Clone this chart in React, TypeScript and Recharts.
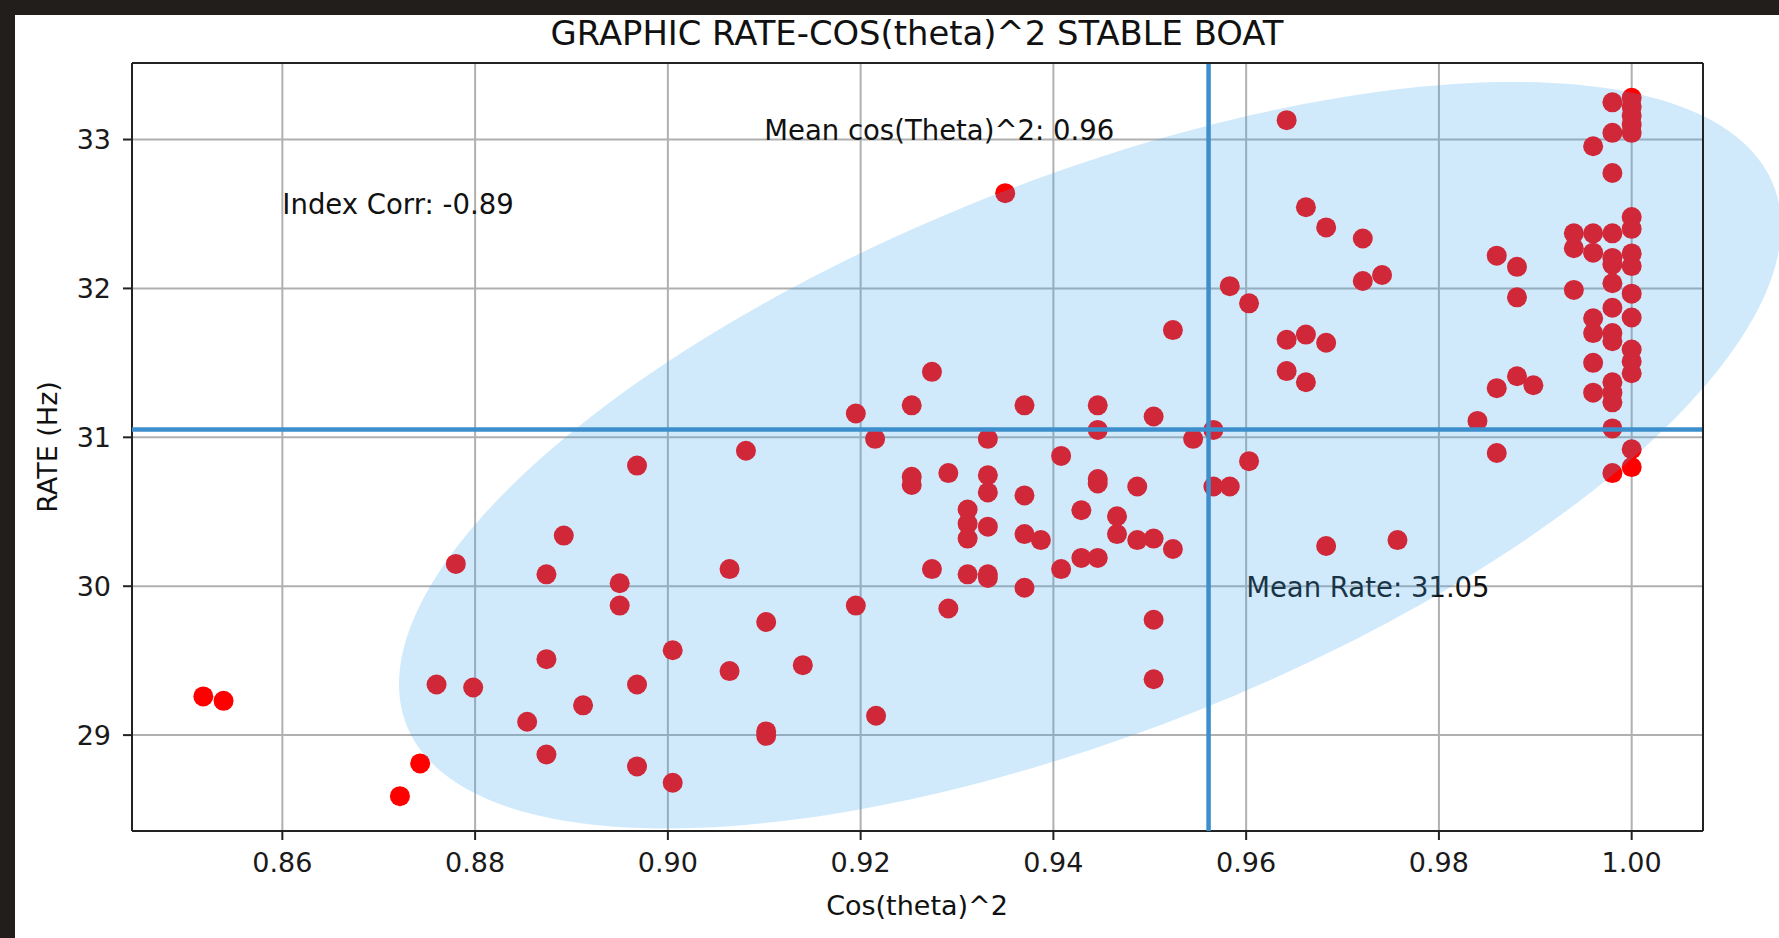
import React from 'react';
import { ScatterChart, Scatter, XAxis, YAxis, CartesianGrid, ReferenceLine } from 'recharts';

// [cos(theta)^2, rate (Hz)]
const samples: [number, number][] = [
  [0.8518, 29.26], [0.8539, 29.23], [0.8743, 28.81], [0.8722, 28.59],
  [0.878, 30.15], [0.8892, 30.34], [0.8874, 30.08], [0.8874, 29.51], [0.876, 29.34],
  [0.8798, 29.32], [0.8912, 29.2], [0.8854, 29.09], [0.8874, 28.87],
  [0.8968, 30.81], [0.895, 30.02], [0.895, 29.87], [0.9064, 30.115], [0.9102, 29.76],
  [0.9005, 29.57], [0.9064, 29.43], [0.914, 29.47], [0.8968, 29.34], [0.9102, 28.995],
  [0.9102, 29.025], [0.9216, 29.13], [0.8968, 28.79], [0.9005, 28.68],
  [0.9195, 29.87], [0.9291, 29.85], [0.9081, 30.91], [0.9195, 31.16], [0.9215, 30.99],
  [0.9253, 31.215], [0.9274, 31.44], [0.9253, 30.735], [0.9253, 30.68], [0.9291, 30.76],
  [0.9332, 30.745], [0.9332, 30.63], [0.9311, 30.515], [0.9311, 30.42], [0.9311, 30.32],
  [0.9332, 30.4], [0.9274, 30.115], [0.9311, 30.08], [0.9332, 30.08], [0.9332, 30.055],
  [0.9332, 30.99], [0.935, 32.64],
  [0.937, 31.215], [0.937, 30.61], [0.937, 30.35], [0.9387, 30.31], [0.937, 29.99],
  [0.9408, 30.875], [0.9408, 30.115], [0.9429, 30.51], [0.9429, 30.19], [0.9446, 30.19],
  [0.9446, 31.215], [0.9446, 31.05], [0.9446, 30.72], [0.9446, 30.69],
  [0.9466, 30.47], [0.9466, 30.35], [0.9487, 30.67], [0.9487, 30.31], [0.9504, 30.32],
  [0.9504, 31.14], [0.9504, 29.775], [0.9504, 29.375], [0.9524, 30.25], [0.9524, 31.72],
  [0.9545, 30.99], [0.9566, 31.05], [0.9566, 30.67], [0.9583, 30.67], [0.9603, 30.84],
  [0.9583, 32.015], [0.9603, 31.9], [0.9642, 33.13], [0.9662, 32.545], [0.9683, 32.41],
  [0.9721, 32.335], [0.9721, 32.05], [0.9741, 32.09], [0.9642, 31.655], [0.9662, 31.69],
  [0.9683, 31.635], [0.9642, 31.445], [0.9662, 31.37], [0.9683, 30.27], [0.9757, 30.31],
  [0.984, 31.11], [0.986, 30.895], [0.986, 31.33], [0.9881, 31.41], [0.9898, 31.35],
  [0.986, 32.22], [0.9881, 32.145], [0.9881, 31.94],
  [0.994, 32.37], [0.994, 32.27], [0.994, 31.99],
  [0.996, 32.955], [0.996, 32.37], [0.996, 32.24], [0.996, 31.8], [0.996, 31.7],
  [0.996, 31.5], [0.996, 31.3],
  [0.998, 33.25], [0.998, 33.045], [0.998, 32.775], [0.998, 32.37], [0.998, 32.205],
  [0.998, 32.16], [0.998, 32.035], [0.998, 31.87], [0.998, 31.7], [0.998, 31.645],
  [0.998, 31.37], [0.998, 31.3], [0.998, 31.235], [0.998, 31.06], [0.998, 30.76],
  [1.0, 33.28], [1.0, 33.22], [1.0, 33.16], [1.0, 33.1], [1.0, 33.045], [1.0, 32.48],
  [1.0, 32.4], [1.0, 32.235], [1.0, 32.15], [1.0, 31.965], [1.0, 31.805], [1.0, 31.59],
  [1.0, 31.51], [1.0, 31.43], [1.0, 30.92], [1.0, 30.8],
];

const xTicks = [0.86, 0.88, 0.9, 0.92, 0.94, 0.96, 0.98, 1.0];
const yTicks = [29, 30, 31, 32, 33];
const xDomain: [number, number] = [0.8444, 1.0074];
const yDomain: [number, number] = [28.356, 33.514];

const meanCos = 0.9561;
const meanRate = 31.052;

const annotationText = ['Index Corr: -0.89', 'Mean cos(Theta)^2: 0.96', 'Mean Rate: 31.05'];
const annotationX = [0.86, 0.91, 0.96];
const annotationY = [32.5, 33.0, 29.93];

// confidence ellipse: center, spread (x, y), correlation
const ellipseCenter = [0.9438, 30.88];
const ellipseSpread = [0.0717, 2.507];
const ellipseCorr = 0.6135;
const anchorStep = [0.04, 1.5];

const FONT = 'DejaVu Sans';

const pointData = samples.map(([x, y]) => ({ x, y }));
const annotationData = annotationText.map((text, i) => ({ x: annotationX[i], y: annotationY[i], text }));
const anchorData = [
  { x: ellipseCenter[0], y: ellipseCenter[1] },
  { x: ellipseCenter[0] + anchorStep[0], y: ellipseCenter[1] },
  { x: ellipseCenter[0], y: ellipseCenter[1] + anchorStep[1] },
];

const renderEllipse = (props: any) => {
  const pts = props.points || [];
  if (pts.length < 3) return <g />;
  const [p0, p1, p2] = pts;
  const kx = (p1.x - p0.x) / anchorStep[0];
  const ky = (p2.y - p0.y) / anchorStep[1];
  const s = Math.sqrt(1 - ellipseCorr * ellipseCorr);
  const parts: string[] = [];
  for (let i = 0; i <= 240; i++) {
    const t = (i / 240) * 2 * Math.PI;
    const dx = ellipseSpread[0] * Math.cos(t);
    const dy = ellipseSpread[1] * (ellipseCorr * Math.cos(t) + s * Math.sin(t));
    parts.push(`${i === 0 ? 'M' : 'L'}${(p0.x + kx * dx).toFixed(2)},${(p0.y + ky * dy).toFixed(2)}`);
  }
  return <path d={parts.join(' ') + ' Z'} fill="rgb(58,167,238)" fillOpacity={0.24} stroke="none" />;
};

const renderPoint = (p: any) => <circle cx={p.cx} cy={p.cy} r={10} fill="#ff0000" />;

const renderAnnotation = (p: any) => (
  <text x={p.cx} y={p.cy} fontSize={27.5} fontFamily={FONT} fill="#111" textAnchor="start">
    {p.payload?.text ?? p.text}
  </text>
);

const tickStyle = { fontSize: 27, fontFamily: FONT, fill: '#1a1a1a' };

export default function App() {
  return (
    <div style={{ position: 'fixed', left: 0, top: 0, width: 1779, height: 938, background: '#211e1b', overflow: 'hidden' }}>
      <div style={{ position: 'absolute', left: 15, top: 15, right: 0, bottom: 0, background: '#ffffff' }} />
      <div style={{ position: 'absolute', left: 0, top: 0 }}>
        <ScatterChart width={1779} height={938} margin={{ top: 63, right: 76, bottom: 47, left: 52 }}>
          <CartesianGrid stroke="#b0b0b0" strokeWidth={2} />
          <XAxis
            type="number"
            dataKey="x"
            domain={xDomain}
            ticks={xTicks}
            tickFormatter={(v: number) => v.toFixed(2)}
            height={60}
            tick={tickStyle}
            tickSize={9}
            tickMargin={13}
            axisLine={{ stroke: '#222', strokeWidth: 2 }}
            tickLine={{ stroke: '#222', strokeWidth: 2 }}
          />
          <YAxis
            type="number"
            dataKey="y"
            domain={yDomain}
            ticks={yTicks}
            width={80}
            tick={tickStyle}
            tickSize={9}
            tickMargin={12}
            axisLine={{ stroke: '#222', strokeWidth: 2 }}
            tickLine={{ stroke: '#222', strokeWidth: 2 }}
          />
          <Scatter data={pointData} shape={renderPoint} isAnimationActive={false} />
          <Scatter data={annotationData} shape={renderAnnotation} isAnimationActive={false} />
          <Scatter data={anchorData} shape={() => <g />} line={renderEllipse} isAnimationActive={false} />
          <ReferenceLine x={meanCos} stroke="#3c8fcc" strokeWidth={4.5} ifOverflow="visible" zIndex={800} />
          <ReferenceLine y={meanRate} stroke="#3c8fcc" strokeWidth={4.5} ifOverflow="visible" zIndex={800} />
          <ReferenceLine y={yDomain[1]} stroke="#222" strokeWidth={2} ifOverflow="visible" zIndex={800} />
          <ReferenceLine x={xDomain[1]} stroke="#222" strokeWidth={2} ifOverflow="visible" zIndex={800} />
        </ScatterChart>
      </div>
      <svg width={1779} height={938} style={{ position: 'absolute', left: 0, top: 0, pointerEvents: 'none' }}>
        <text x={917} y={45} textAnchor="middle" fontSize={33.8} fontFamily={FONT} fill="#111">
          GRAPHIC RATE-COS(theta)^2 STABLE BOAT
        </text>
        <text x={917} y={915} textAnchor="middle" fontSize={27} fontFamily={FONT} fill="#111">
          Cos(theta)^2
        </text>
        <text x={57} y={447} textAnchor="middle" fontSize={27} fontFamily={FONT} fill="#111" transform="rotate(-90, 57, 447)">
          RATE (Hz)
        </text>
      </svg>
    </div>
  );
}
